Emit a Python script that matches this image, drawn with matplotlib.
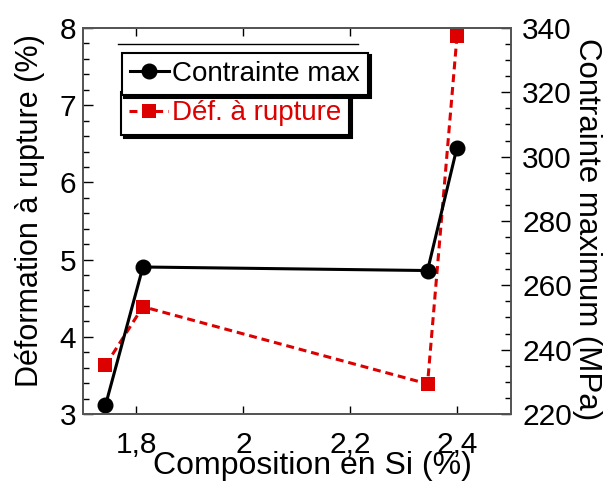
import numpy as np
import matplotlib
matplotlib.use("Agg")
import matplotlib.pyplot as plt
from matplotlib.lines import Line2D
from matplotlib.ticker import MultipleLocator

plt.rcParams['font.family'] = ['Liberation Sans', 'DejaVu Sans']

# Donnees
composition_si = [1.742, 1.812, 2.344, 2.399]
contrainte_max = [222.7, 265.7, 264.6, 302.8]     # MPa (axe droit)
def_rupture = [3.63, 4.39, 3.39, 7.89]            # % (axe gauche)

x_ticks = [1.8, 2.0, 2.2, 2.4]
x_ticklabels = ['1,8', '2', '2,2', '2,4']

rouge = '#dd0000'
police_leg = {'family': ['Liberation Sans Narrow', 'Liberation Sans'], 'size': 20}

fig = plt.figure(figsize=(6.06, 4.83), dpi=100)
ax = fig.add_axes([83 / 606, 1 - 414 / 483, 428 / 606, 386 / 483])
ax2 = ax.twinx()

# Def. a rupture (axe gauche)
l_def, = ax.plot(composition_si, def_rupture, color=rouge, linestyle=(0, (2.6, 1.6)),
                 linewidth=2.2, marker='s', markersize=9.5, markeredgewidth=0,
                 label='Déf. à rupture')
# Contrainte max (axe droit)
l_con, = ax2.plot(composition_si, contrainte_max, color='black', linewidth=2.2,
                  marker='o', markersize=10.5, label='Contrainte max')

ax.set_xlim(1.7, 2.5)
ax.set_ylim(3, 8)
ax2.set_ylim(220, 340)

ax.set_xticks(x_ticks)
ax.set_xticklabels(x_ticklabels)
ax.yaxis.set_major_locator(MultipleLocator(1))
ax.yaxis.set_minor_locator(MultipleLocator(0.2))
ax2.yaxis.set_major_locator(MultipleLocator(20))
ax2.yaxis.set_minor_locator(MultipleLocator(5))

ax.tick_params(axis='x', which='both', direction='in', top=True, length=6, width=1,
               labelsize=21.5, pad=12)
ax.tick_params(axis='y', which='major', direction='in', length=7, width=1,
               labelsize=21.5, pad=5)
ax.tick_params(axis='y', which='minor', direction='in', length=4, width=1)
ax2.tick_params(axis='y', which='major', direction='in', length=7, width=1,
                labelsize=21.5, pad=8)
ax2.tick_params(axis='y', which='minor', direction='in', length=4, width=1)

for a in (ax, ax2):
    for s in a.spines.values():
        s.set_color('#555555')
        s.set_linewidth(1.3)

ax.set_xlabel('Composition en Si (%)', fontsize=23, va='center')
ax.xaxis.set_label_coords(0.535, -0.134)
ax.set_ylabel('Déformation à rupture (%)', fontsize=22, va='center')
ax.yaxis.set_label_coords(-0.124, 0.528)
ax2.set_ylabel('Contrainte maximum (MPa)', fontsize=22.5, rotation=-90, va='center')
ax2.yaxis.set_label_coords(1.178, 0.48)

# trait horizontal au-dessus des legendes
ax2.add_line(Line2D([0.082, 0.642], [0.959, 0.959], transform=ax.transAxes,
                    color='black', linewidth=1))

leg2 = ax2.legend(handles=[l_def], loc='upper left', bbox_to_anchor=(0.089, 0.834),
                  borderaxespad=0, prop=police_leg, fancybox=False, edgecolor='black',
                  framealpha=1, shadow={'color': 'black', 'alpha': 1},
                  handlelength=1.4, handletextpad=0.12, borderpad=0.3,
                  labelcolor=rouge)
ax2.add_artist(leg2)
leg1 = ax2.legend(handles=[l_con], loc='upper left', bbox_to_anchor=(0.090, 0.9365),
                  borderaxespad=0, prop=police_leg, fancybox=False, edgecolor='black',
                  framealpha=1, shadow={'color': 'black', 'alpha': 1},
                  handlelength=1.4, handletextpad=0.12, borderpad=0.3)
for lg in (leg1, leg2):
    lg.get_frame().set_linewidth(1.5)

fig.savefig('out.png', dpi=100)
